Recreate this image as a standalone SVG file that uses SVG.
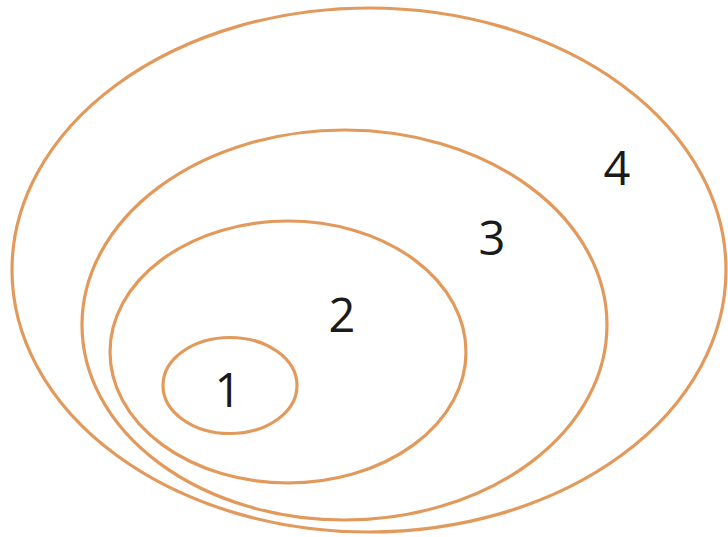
<svg xmlns="http://www.w3.org/2000/svg" width="728" height="537" viewBox="0 0 728 537">
<style>
.ring{fill:none;stroke:#E29A5C;stroke-width:3.2}
.lbl{font-family:"Open Sans","Liberation Sans",sans-serif;font-size:47px;fill:#1a1a1a;text-anchor:middle}
</style>
<rect width="728" height="537" fill="#ffffff"/>
<g id="set4"><ellipse class="ring" cx="369" cy="270" rx="357" ry="262"/><text class="lbl" x="617" y="185">4</text></g>
<g id="set3"><ellipse class="ring" cx="344.5" cy="325" rx="262.5" ry="195"/><text class="lbl" x="492" y="255">3</text></g>
<g id="set2"><ellipse class="ring" cx="288" cy="352" rx="178" ry="131"/><text class="lbl" x="342" y="332">2</text></g>
<g id="set1"><ellipse class="ring" cx="230" cy="385.5" rx="67" ry="48"/><text class="lbl" x="228" y="407">1</text></g>
<g id="connectors"/>
</svg>
